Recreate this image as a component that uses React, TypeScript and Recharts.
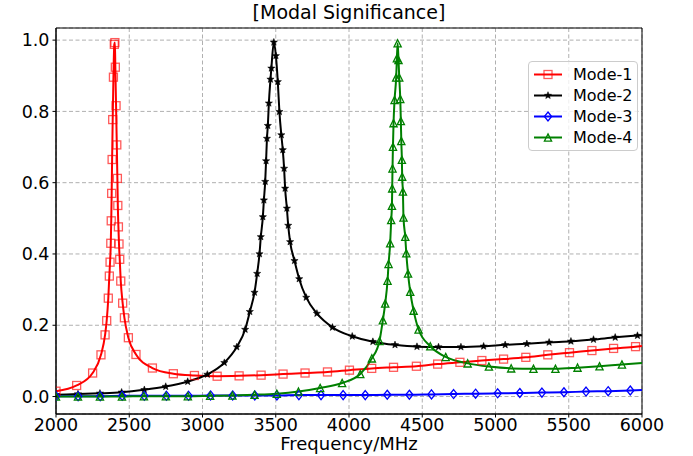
import React from "react";
import { LineChart, Line, XAxis, YAxis, CartesianGrid, ReferenceArea } from "recharts";

// Frequency (MHz) and modal significance values
const mode1Freq = [2000, 2141, 2250, 2307, 2335, 2346, 2357, 2364, 2369, 2374, 2377, 2380, 2383, 2387, 2392, 2398, 2402, 2405, 2410, 2415, 2419, 2422, 2426, 2430, 2435, 2442, 2455, 2467, 2494, 2546, 2658, 2801, 2945, 3100, 3250, 3400, 3550, 3700, 3853, 4003, 4155, 4304, 4460, 4605, 4757, 4907, 5055, 5207, 5357, 5505, 5658, 5806, 5956, 6000];
const mode1Val = [0.015, 0.031, 0.066, 0.117, 0.173, 0.213, 0.276, 0.338, 0.377, 0.43, 0.493, 0.57, 0.665, 0.777, 0.896, 0.988, 0.993, 0.924, 0.816, 0.706, 0.612, 0.536, 0.476, 0.428, 0.385, 0.324, 0.262, 0.221, 0.165, 0.118, 0.08, 0.064, 0.059, 0.057, 0.058, 0.06, 0.063, 0.066, 0.069, 0.074, 0.079, 0.082, 0.085, 0.091, 0.096, 0.101, 0.105, 0.11, 0.117, 0.123, 0.129, 0.135, 0.14, 0.142];

const mode2Freq = [2000, 2150, 2300, 2448, 2603, 2749, 2899, 3033, 3149, 3234, 3291, 3323, 3355, 3373, 3389, 3398, 3412, 3419, 3428, 3434, 3440, 3446, 3453, 3464, 3470, 3487, 3501, 3514, 3525, 3538, 3548, 3557, 3564, 3576, 3585, 3598, 3628, 3660, 3708, 3781, 3887, 4022, 4163, 4314, 4464, 4611, 4764, 4919, 5066, 5214, 5366, 5515, 5669, 5817, 5969, 6000];
const mode2Val = [0.005, 0.007, 0.009, 0.012, 0.019, 0.028, 0.042, 0.062, 0.095, 0.139, 0.188, 0.238, 0.292, 0.345, 0.4, 0.448, 0.504, 0.551, 0.603, 0.661, 0.724, 0.76, 0.823, 0.89, 0.921, 0.994, 0.956, 0.883, 0.799, 0.734, 0.692, 0.64, 0.584, 0.528, 0.48, 0.434, 0.381, 0.33, 0.278, 0.233, 0.194, 0.169, 0.154, 0.145, 0.14, 0.139, 0.139, 0.141, 0.145, 0.148, 0.152, 0.155, 0.16, 0.166, 0.171, 0.172];

const mode3Freq = [2000, 2151, 2302, 2452, 2603, 2754, 2905, 3055, 3206, 3357, 3508, 3658, 3809, 3960, 4111, 4261, 4412, 4563, 4714, 4864, 5015, 5166, 5317, 5467, 5618, 5769, 5920, 6000];
const mode3Val = [0.001, 0.001, 0.001, 0.002, 0.002, 0.002, 0.002, 0.003, 0.003, 0.003, 0.003, 0.004, 0.004, 0.004, 0.004, 0.005, 0.005, 0.006, 0.007, 0.008, 0.009, 0.01, 0.011, 0.012, 0.014, 0.015, 0.017, 0.018];

const mode4Freq = [2000, 2150, 2300, 2450, 2600, 2750, 2900, 3052, 3204, 3355, 3507, 3655, 3803, 3953, 4077, 4156, 4208, 4231, 4247, 4263, 4270, 4281, 4288, 4293, 4295, 4297, 4300, 4304, 4311, 4322, 4327, 4332, 4338, 4343, 4350, 4354, 4357, 4361, 4363, 4368, 4372, 4384, 4391, 4403, 4418, 4441, 4475, 4555, 4660, 4810, 4955, 5107, 5259, 5409, 5560, 5710, 5863, 6000];
const mode4Val = [0, 0, 0, 0, 0.001, 0.001, 0.001, 0.002, 0.003, 0.005, 0.008, 0.014, 0.024, 0.038, 0.063, 0.107, 0.156, 0.214, 0.261, 0.325, 0.372, 0.43, 0.495, 0.535, 0.584, 0.64, 0.701, 0.767, 0.832, 0.895, 0.949, 0.991, 0.944, 0.895, 0.835, 0.773, 0.717, 0.664, 0.617, 0.575, 0.502, 0.448, 0.402, 0.345, 0.294, 0.241, 0.188, 0.141, 0.111, 0.093, 0.084, 0.079, 0.078, 0.078, 0.081, 0.085, 0.09, 0.094];

const xTicks = [2000, 2500, 3000, 3500, 4000, 4500, 5000, 5500, 6000];
const yTicks = [0, 0.2, 0.4, 0.6, 0.8, 1.0];

const zip = (fs: number[], vs: number[]) => fs.map((f, i) => ({ f, v: vs[i] }));

const series = [
  { name: "Mode-1", data: zip(mode1Freq, mode1Val), color: "#ff0000", shape: "square" },
  { name: "Mode-2", data: zip(mode2Freq, mode2Val), color: "#000000", shape: "star" },
  { name: "Mode-3", data: zip(mode3Freq, mode3Val), color: "#0000ff", shape: "diamond" },
  { name: "Mode-4", data: zip(mode4Freq, mode4Val), color: "#008000", shape: "triangle" },
];

const FONT = "'DejaVu Sans', Verdana, sans-serif";

function starPath(cx: number, cy: number, ro: number, ri: number) {
  let d = "";
  for (let i = 0; i < 10; i++) {
    const r = i % 2 === 0 ? ro : ri;
    const a = -Math.PI / 2 + (i * Math.PI) / 5;
    d += (i === 0 ? "M" : "L") + (cx + r * Math.cos(a)).toFixed(2) + "," + (cy + r * Math.sin(a)).toFixed(2);
  }
  return d + "Z";
}

function Marker({ shape, color, cx, cy }: { shape: string; color: string; cx: number; cy: number }) {
  if (shape === "square")
    return <rect x={cx - 4} y={cy - 4} width={8} height={8} fill="none" stroke={color} strokeOpacity={0.65} strokeWidth={1.3} />;
  if (shape === "star") return <path d={starPath(cx, cy, 3.8, 1.6)} fill={color} stroke={color} strokeWidth={0.5} />;
  if (shape === "diamond")
    return <path d={`M${cx},${cy - 4.5}L${cx + 3.6},${cy}L${cx},${cy + 4.5}L${cx - 3.6},${cy}Z`} fill="none" stroke={color} strokeWidth={1.3} />;
  return <path d={`M${cx},${cy - 3.6}L${cx + 3.6},${cy + 3.6}L${cx - 3.6},${cy + 3.6}Z`} fill="none" stroke={color} strokeWidth={1.3} />;
}

const makeDot = (shape: string, color: string) => (props: any) => {
  const { cx, cy, index, payload } = props;
  const key = `${shape}-${index}`;
  if (cx == null || cy == null || payload.f >= 6000) return <g key={key} />;
  return (
    <g key={key}>
      <Marker shape={shape} color={color} cx={cx} cy={cy} />
    </g>
  );
};

export default function App() {
  return (
    <div style={{ position: "absolute", left: 0, top: 0, width: 693, height: 456, background: "#fff", fontFamily: FONT }}>
      <div style={{ position: "absolute", left: 56, width: 586, top: 2, textAlign: "center", fontSize: 19, lineHeight: "20px", color: "#000" }}>
        [Modal Significance]
      </div>
      <LineChart width={693} height={456} margin={{ top: 28, right: 51, left: 0, bottom: 0 }}>
        <CartesianGrid stroke="#b0b0b0" strokeDasharray="4 2.5" strokeWidth={1} />
        <XAxis
          dataKey="f"
          type="number"
          domain={[2000, 6000]}
          ticks={xTicks}
          allowDataOverflow
          height={42}
          tickSize={3.5}
          tickMargin={1}
          stroke="#000"
          tick={{ fill: "#000", fontSize: 17.5, fontFamily: FONT }}
        />
        <YAxis
          type="number"
          domain={[-0.049, 1.034]}
          ticks={yTicks}
          allowDataOverflow
          width={56}
          tickSize={3.5}
          tickMargin={3}
          stroke="#000"
          tickFormatter={(v: number) => v.toFixed(1)}
          tick={{ fill: "#000", fontSize: 17.5, fontFamily: FONT }}
        />
        <ReferenceArea x1={2000} x2={6000} y1={-0.049} y2={1.034} fill="none" stroke="#000" strokeWidth={1} ifOverflow="visible" />
        {series.map((s) => (
          <Line
            key={s.name}
            data={s.data}
            dataKey="v"
            name={s.name}
            type="monotone"
            stroke={s.color}
            strokeWidth={2}
            dot={makeDot(s.shape, s.color)}
            activeDot={false}
            isAnimationActive={false}
          />
        ))}
      </LineChart>
      <div style={{ position: "absolute", left: 56, width: 586, top: 434, textAlign: "center", fontSize: 18, lineHeight: "19px", color: "#000" }}>
        Frequency/MHz
      </div>
      <div
        style={{
          position: "absolute",
          left: 528,
          top: 61,
          width: 108,
          height: 86,
          border: "1px solid #cccccc",
          borderRadius: 4,
          background: "rgba(255,255,255,0.8)",
          paddingTop: 2,
        }}
      >
        {series.map((s) => (
          <div key={s.name} style={{ display: "flex", alignItems: "center", height: 21, fontSize: 16, color: "#000" }}>
            <svg width={40} height={21} style={{ marginLeft: 4 }}>
              <line x1={1} y1={10.5} x2={29} y2={10.5} stroke={s.color} strokeWidth={2} />
              <Marker shape={s.shape} color={s.color} cx={15} cy={10.5} />
            </svg>
            <span>{s.name}</span>
          </div>
        ))}
      </div>
    </div>
  );
}
